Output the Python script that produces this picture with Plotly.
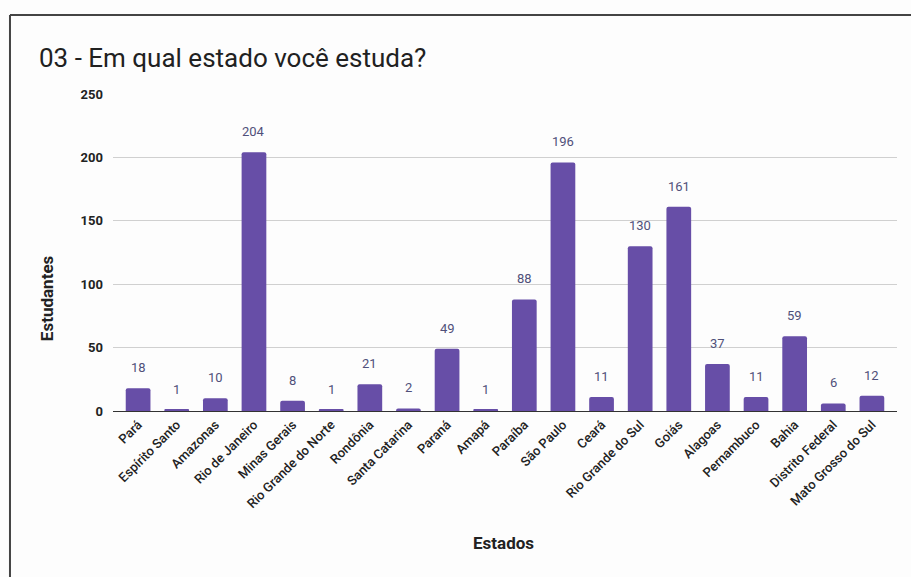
import plotly.graph_objects as go

estados = ["Pará", "Espírito Santo", "Amazonas", "Rio de Janeiro", "Minas Gerais",
           "Rio Grande do Norte", "Rondônia", "Santa Catarina", "Paraná", "Amapá",
           "Paraíba", "São Paulo", "Ceará", "Rio Grande do Sul", "Goiás",
           "Alagoas", "Pernambuco", "Bahia", "Distrito Federal", "Mato Grosso do Sul"]
estudantes = [18, 1, 10, 204, 8, 1, 21, 2, 49, 1, 88, 196, 11, 130, 161, 37, 11, 59, 6, 12]
y_ticks = [0, 50, 100, 150, 200, 250]

fig = go.Figure()
fig.add_trace(go.Bar(x=estados, y=estudantes,
                     marker=dict(color="#674ea7", line=dict(width=0), cornerradius=2),
                     hoverinfo="x+y"))

for e, v in zip(estados, estudantes):
    fig.add_annotation(x=e, y=v, text=str(v), showarrow=False, yanchor="bottom", yshift=11,
                       font=dict(family="Roboto", size=13, color="#50507a"))

fig.add_annotation(xref="paper", yref="paper", x=-0.0969, y=1.114, xanchor="left", yanchor="middle",
                   text="03 - Em qual estado você estuda?", showarrow=False,
                   font=dict(family="Roboto", size=26, color="#212121"))
fig.add_annotation(xref="paper", yref="paper", x=-0.0842, y=0.356, xanchor="center", yanchor="middle",
                   text="Estudantes", textangle=-90, showarrow=False,
                   font=dict(family="Roboto", size=17, color="#222", weight=700))
fig.add_annotation(xref="paper", yref="paper", x=0.4987, y=-0.416, xanchor="center", yanchor="middle",
                   text="Estados", showarrow=False,
                   font=dict(family="Roboto", size=17, color="#222", weight=700))

# frame lines
fig.add_shape(type="line", xref="paper", yref="paper", x0=-0.1314, x1=1.1, y0=1.249, y1=1.249,
              line=dict(color="#444", width=2))
fig.add_shape(type="line", xref="paper", yref="paper", x0=-0.1314, x1=-0.1314, y0=1.249, y1=-0.6,
              line=dict(color="#444", width=2))

fig.update_layout(
    width=911, height=577,
    margin=dict(l=113, r=14, t=94, b=166),
    paper_bgcolor="#fdfdfd", plot_bgcolor="#fdfdfd",
    bargap=0.36,
    showlegend=False,
    font=dict(family="Roboto", color="#222"),
    xaxis=dict(tickangle=-45, tickfont=dict(family="Roboto", size=13, color="#222", weight=500),
               range=[-0.65, 19.65],
               showgrid=False, showline=True, linecolor="#333", linewidth=1, ticks=""),
    yaxis=dict(range=[0, 250], tickvals=y_ticks, showgrid=True, gridcolor="#d0d0d0", gridwidth=1,
               zeroline=False, showline=False, ticks="", ticklabelstandoff=9,
               tickfont=dict(family="Roboto", size=13, color="#222", weight=700)),
)

fig.write_html("out.html")
